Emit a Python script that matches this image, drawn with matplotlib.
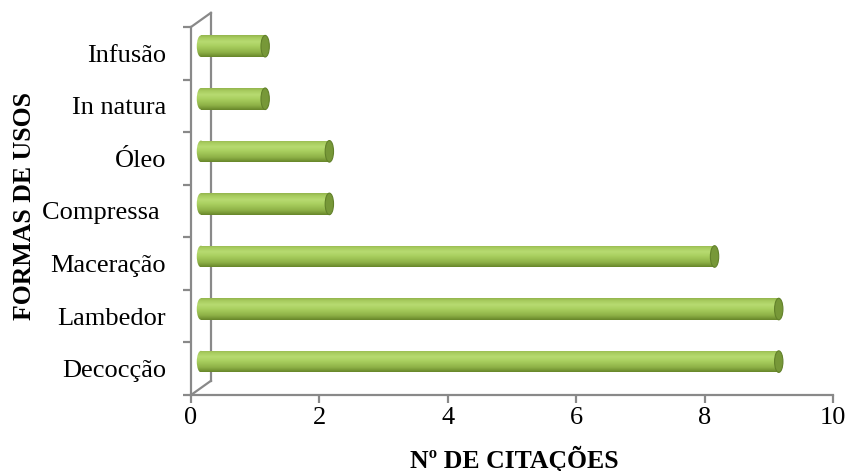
import matplotlib
matplotlib.use("Agg")
import matplotlib.pyplot as plt
import numpy as np
from matplotlib.patches import Rectangle, Ellipse
from matplotlib.colors import LinearSegmentedColormap

# data
categories = ["Decocção", "Lambedor", "Maceração", "Compressa ", "Óleo", "In natura", "Infusão"]
citations = [9, 9, 8, 2, 2, 1, 1]
xticks = [0, 2, 4, 6, 8, 10]

plt.rcParams['font.family'] = ['Liberation Serif', 'DejaVu Serif']

# pseudo-3D depth of the back wall, in data units
dx = 0.31
dy = 0.27
bar_h = 0.41
cap_w = 0.13
frame_col = "#898989"

green = LinearSegmentedColormap.from_list(
    "cyl", [(0.0, "#67862a"), (0.2, "#8db046"), (0.5, "#a9cf5f"),
            (0.7, "#b7db71"), (0.88, "#a8cc5f"), (1.0, "#94b54d")])
grad = np.linspace(0, 1, 64).reshape(-1, 1)

fig = plt.figure(figsize=(8.49, 4.71), dpi=100)
ax = fig.add_axes([191 / 849, 76 / 471, 642 / 849, 368 / 471])

for i, v in enumerate(citations):
    x0 = dx / 2
    x1 = v + dx / 2
    yc = i + dy / 2
    y0, y1 = yc - bar_h / 2, yc + bar_h / 2
    body = Rectangle((x0, y0), x1 - x0, bar_h, facecolor="none", edgecolor="none")
    ax.add_patch(body)
    im = ax.imshow(grad, extent=[x0 - cap_w, x1, y0, y1], origin="lower",
                   cmap=green, aspect="auto", interpolation="bilinear", zorder=3)
    im.set_clip_path(body)
    left = Ellipse((x0, yc), cap_w, bar_h, facecolor="none", edgecolor="none")
    ax.add_patch(left)
    im2 = ax.imshow(grad, extent=[x0 - cap_w, x1, y0, y1], origin="lower",
                    cmap=green, aspect="auto", interpolation="bilinear", zorder=3)
    im2.set_clip_path(left)
    ax.add_patch(Ellipse((x1, yc), cap_w, bar_h, facecolor="#779838",
                         edgecolor="#62812a", linewidth=0.8, zorder=4))

ax.set_xlim(0, 10)
ax.set_ylim(-0.5, len(categories) - 0.5)

# frame: front axis, back wall edge and the connecting diagonals
top = len(categories) - 0.5
kw = dict(color=frame_col, linewidth=1.6, clip_on=False, zorder=2)
ax.plot([0, 0], [-0.5, top], **kw)
ax.plot([dx, dx], [-0.5 + dy, top + dy], **kw)
ax.plot([0, dx], [top, top + dy], **kw)
ax.plot([0, dx], [-0.5, -0.5 + dy], **kw)
ax.plot([0, 10], [-0.5, -0.5], **kw)

for s in ax.spines.values():
    s.set_visible(False)

ax.set_xticks(xticks)
ax.set_xticklabels([str(t) for t in xticks], fontsize=19)
ax.tick_params(axis="x", length=6, width=1.6, color=frame_col, pad=3)

ax.set_yticks(np.arange(-0.5, len(categories), 1.0))
ax.set_yticklabels([])
ax.set_yticks(np.arange(len(categories)), minor=True)
ax.set_yticklabels(categories, minor=True, fontsize=19)
ax.tick_params(axis="y", which="major", length=6, width=1.6, color=frame_col)
ax.tick_params(axis="y", which="minor", length=0, pad=18)

fig.text(514 / 849, 1 - 459 / 471, "Nº DE CITAÇÕES", fontsize=18.5,
         fontweight="bold", ha="center", va="center")
fig.text(25 / 849, 1 - 206 / 471, "FORMAS DE USOS", fontsize=18.5,
         fontweight="bold", ha="center", va="center", rotation=90)

plt.savefig("out.png", dpi=100)
